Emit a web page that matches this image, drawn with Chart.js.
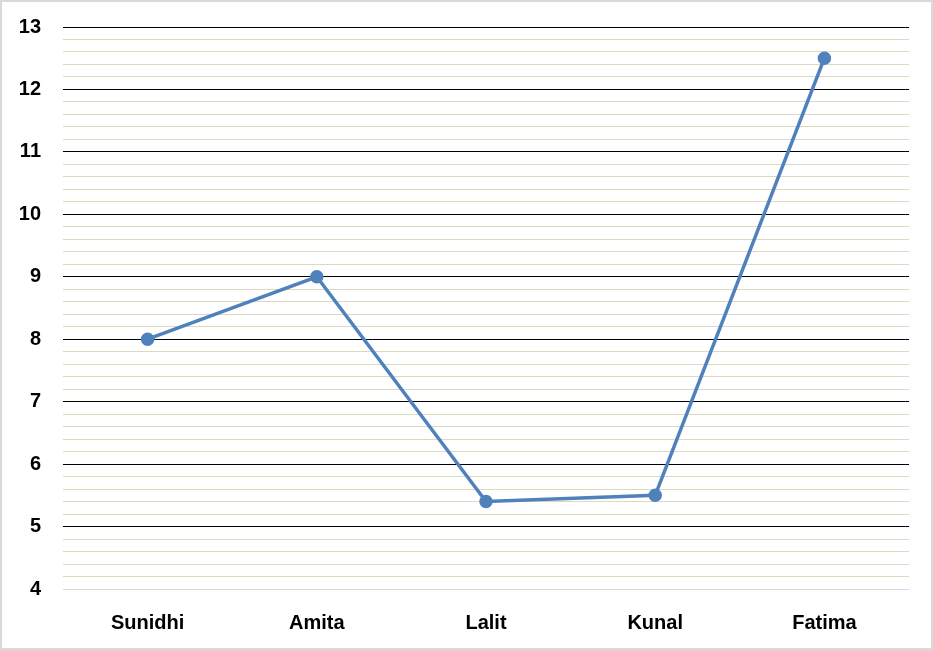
<!DOCTYPE html>
<html>
<head>
<meta charset="utf-8">
<script src="https://cdn.jsdelivr.net/npm/chart.js@4"></script>
<style>
html,body{margin:0;padding:0;background:#fff;}
#wrap{width:933px;height:650px;position:relative;}
canvas{display:block;}
</style>
</head>
<body>
<div id="wrap"><canvas id="c" width="933" height="650"></canvas></div>
<script>
const categories = ["Sunidhi", "Amita", "Lalit", "Kunal", "Fatima"];
const values = [8, 9, 5.4, 5.5, 12.5];
const yMin = 4;
const yMax = 13;
const yStep = 0.2;

const isMajor = v => Math.abs(v - Math.round(v)) < 1e-6;

const borderPlugin = {
  id: 'frame',
  beforeDraw(chart) {
    const ctx = chart.ctx;
    ctx.save();
    ctx.fillStyle = '#fff';
    ctx.fillRect(0, 0, chart.width, chart.height);
    ctx.restore();
  },
  afterDraw(chart) {
    const ctx = chart.ctx;
    ctx.save();
    ctx.strokeStyle = '#d9d9d9';
    ctx.lineWidth = 2;
    ctx.strokeRect(1, 1, chart.width - 2, chart.height - 2);
    ctx.restore();
  }
};

new Chart(document.getElementById('c'), {
  type: 'line',
  data: {
    labels: categories,
    datasets: [{
      data: values,
      borderColor: '#4f81bd',
      backgroundColor: '#4f81bd',
      borderWidth: 3.5,
      pointRadius: 5,
      pointHoverRadius: 5,
      pointBackgroundColor: '#4f81bd',
      pointBorderColor: '#4f81bd',
      tension: 0
    }]
  },
  plugins: [borderPlugin],
  options: {
    responsive: false,
    animation: false,
    devicePixelRatio: 1,
    layout: { padding: { left: 0, right: 24, top: 27, bottom: 0 } },
    plugins: { legend: { display: false }, tooltip: { enabled: false } },
    scales: {
      x: {
        offset: true,
        grid: { display: false, drawTicks: false },
        border: { display: false },
        ticks: {
          color: '#000',
          font: { family: 'Liberation Sans', size: 20, weight: 'bold' },
          padding: 22,
          maxRotation: 0
        },
        afterFit(scale) { scale.height = 61; }
      },
      y: {
        min: yMin,
        max: yMax,
        grid: {
          drawTicks: false,
          lineWidth: 1,
          color: ctx => {
            const v = ctx.tick.value;
            if (Math.abs(v - yMin) < 1e-6) return '#d9d9d9';
            return isMajor(v) ? '#000000' : '#ddd8c0';
          }
        },
        border: { display: false },
        ticks: {
          stepSize: yStep,
          autoSkip: false,
          color: '#000',
          font: { family: 'Liberation Sans', size: 20, weight: 'bold' },
          padding: 22,
          callback: v => isMajor(v) ? String(Math.round(v)) : ''
        },
        afterFit(scale) {
          scale.width = 63;
          scale.paddingTop = 0;
          scale.paddingBottom = 0;
        }
      }
    }
  }
});
</script>
</body>
</html>
